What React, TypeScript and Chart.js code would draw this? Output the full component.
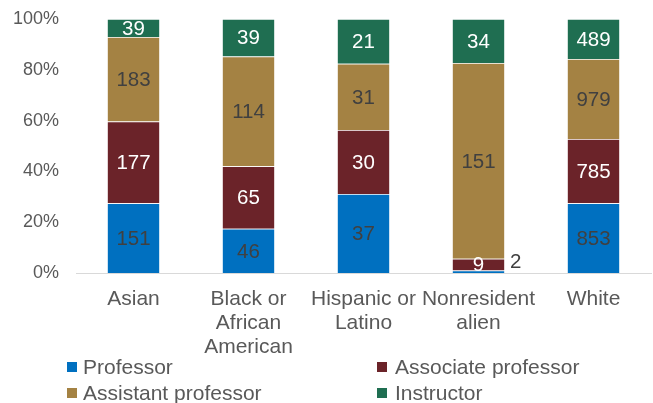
import React, { useEffect, useRef } from 'react';
import { Chart, registerables } from 'chart.js';

Chart.register(...registerables);

const categories: string[][] = [
  ['Asian'],
  ['Black or', 'African', 'American'],
  ['Hispanic or', 'Latino'],
  ['Nonresident', 'alien'],
  ['White'],
];
const seriesNames = ['Professor', 'Associate professor', 'Assistant professor', 'Instructor'];
const professor = [151, 46, 37, 2, 853];
const associate = [177, 65, 30, 9, 785];
const assistant = [183, 114, 31, 151, 979];
const instructor = [39, 39, 21, 34, 489];
const yTicks = [0, 20, 40, 60, 80, 100];

const seriesColors = ['#0070C0', '#6B2329', '#A48243', '#1F6E51'];
const labelColors = ['#404040', '#FFFFFF', '#404040', '#FFFFFF'];
const FONT = "'Liberation Sans', Arial, sans-serif";

export default function App() {
  const ref = useRef<HTMLCanvasElement | null>(null);

  useEffect(() => {
    document.body.style.margin = '0';
    const raw = [professor, associate, assistant, instructor];
    const totals = categories.map((_, i) => raw.reduce((s, arr) => s + arr[i], 0));

    const labelPlugin = {
      id: 'segLabels',
      afterDatasetsDraw(chart: any) {
        const ctx = chart.ctx;
        ctx.save();
        ctx.font = `20.5px ${FONT}`;
        chart.data.datasets.forEach((ds: any, di: number) => {
          const meta = chart.getDatasetMeta(di);
          meta.data.forEach((el: any, i: number) => {
            const p = el.getProps(['x', 'y', 'base', 'width'], true);
            const h = Math.abs(p.base - p.y);
            const txt = String(raw[di][i]);
            if (h < 6) {
              ctx.fillStyle = '#404040';
              ctx.textAlign = 'left';
              ctx.textBaseline = 'alphabetic';
              ctx.fillText(txt, p.x + p.width / 2 + 5, Math.min(p.y, p.base) - 2);
            } else {
              ctx.fillStyle = labelColors[di];
              ctx.textAlign = 'center';
              ctx.textBaseline = 'middle';
              ctx.fillText(txt, p.x, (p.y + p.base) / 2 + 1);
            }
          });
        });
        ctx.restore();
      },
    };

    const legendPlugin = {
      id: 'gridLegend',
      afterDraw(chart: any) {
        const ctx = chart.ctx;
        ctx.save();
        ctx.font = `21px ${FONT}`;
        ctx.textBaseline = 'middle';
        ctx.textAlign = 'left';
        chart.data.datasets.forEach((ds: any, di: number) => {
          const col = di % 2;
          const row = Math.floor(di / 2);
          const bx = col === 0 ? 67 : 377;
          const cy = 367 + row * 26;
          ctx.fillStyle = ds.backgroundColor;
          ctx.fillRect(bx, cy - 5, 10, 10);
          ctx.fillStyle = '#595959';
          ctx.fillText(ds.label, bx + (col === 0 ? 16 : 18), cy + 1);
        });
        ctx.restore();
      },
    };

    const chart = new Chart(ref.current as HTMLCanvasElement, {
      type: 'bar',
      data: {
        labels: categories as any,
        datasets: seriesNames.map((name, di) => ({
          label: name,
          data: raw[di].map((v, i) => (v / totals[i]) * 100),
          backgroundColor: seriesColors[di],
          borderColor: 'rgba(255,255,255,0.55)',
          borderWidth: 0.75,
          categoryPercentage: 1,
          barPercentage: 0.46,
        })),
      },
      options: {
        animation: false,
        responsive: true,
        maintainAspectRatio: false,
        layout: { padding: { top: 19, right: 2, left: 0, bottom: 0 } },
        plugins: {
          legend: { display: false },
          tooltip: { enabled: false },
        },
        scales: {
          x: {
            stacked: true,
            grid: { display: false, drawTicks: false },
            border: { display: true, color: '#D9D9D9', width: 1 },
            ticks: {
              color: '#595959',
              font: { family: FONT, size: 21, lineHeight: 1.15 },
              padding: 14,
              maxRotation: 0,
              autoSkip: false,
            },
            afterFit(scale: any) {
              scale.height = 130;
            },
          },
          y: {
            stacked: true,
            min: 0,
            max: 100,
            afterBuildTicks(scale: any) {
              scale.ticks = yTicks.map((v) => ({ value: v }));
            },
            grid: { display: false, drawTicks: false },
            border: { display: false },
            ticks: {
              color: '#595959',
              font: { family: FONT, size: 18 },
              padding: 17,
              callback: (v: any) => `${v}%`,
            },
            afterFit(scale: any) {
              scale.width = 76;
              scale.paddingTop = 0;
              scale.paddingBottom = 0;
            },
          },
        },
      },
      plugins: [labelPlugin, legendPlugin],
    });

    return () => chart.destroy();
  }, []);

  return (
    <div style={{ position: 'relative', width: 653, height: 403 }}>
      <canvas ref={ref} />
    </div>
  );
}
